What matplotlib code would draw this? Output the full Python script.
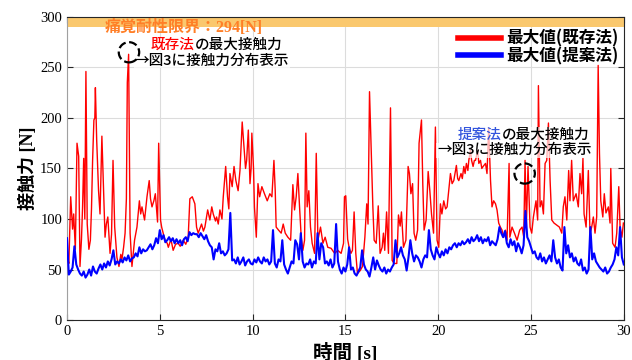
import numpy as np
import matplotlib
matplotlib.use("Agg")
import matplotlib.pyplot as plt
from matplotlib.patches import Ellipse

plt.rcParams['font.family'] = ['Liberation Serif', 'Noto Sans CJK JP']
JP = ['Noto Sans CJK JP', 'DejaVu Sans']
SERIF_JP = ['Liberation Serif', 'Noto Sans CJK JP']

# --- data ---
# existing method (red): time [s], max contact force [N]
red_t = [0.0, 0.05, 0.1, 0.2, 0.3, 0.36, 0.45, 0.54, 0.63, 0.7, 0.78, 0.84, 0.9, 0.96,
         1.02, 1.09, 1.18, 1.26, 1.32, 1.38, 1.45, 1.5, 1.53, 1.6, 1.7, 1.78, 1.88, 1.97,
         2.05, 2.12, 2.2, 2.32, 2.4, 2.48, 2.57, 2.69, 2.8, 2.9, 2.96, 3.05, 3.13, 3.2,
         3.25, 3.32, 3.4, 3.5, 3.58, 3.64, 3.77, 3.9, 3.97, 4.04, 4.18, 4.31, 4.43, 4.5,
         4.58, 4.68, 4.76, 4.88, 4.94, 5.04, 5.1, 5.2, 5.28, 5.4, 5.46, 5.6, 5.72, 5.85,
         5.99, 6.1, 6.26, 6.4, 6.53, 6.62, 6.75, 6.89, 6.98, 7.07, 7.15, 7.25, 7.35, 7.43,
         7.58, 7.7, 7.8, 7.88, 8.0, 8.06, 8.15, 8.24, 8.35, 8.42, 8.55, 8.65, 8.72, 8.78,
         8.9, 9.0, 9.1, 9.22, 9.32, 9.44, 9.55, 9.62, 9.68, 9.77, 9.86, 9.92, 9.96, 10.05,
         10.1, 10.2, 10.29, 10.38, 10.5, 10.64, 10.79, 10.93, 11.04, 11.15, 11.22, 11.27,
         11.4, 11.54, 11.65, 11.76, 11.9, 12.05, 12.17, 12.26, 12.35, 12.44, 12.53, 12.62,
         12.71, 12.8, 12.87, 12.94, 13.03, 13.12, 13.21, 13.34, 13.43, 13.52, 13.66, 13.79,
         13.91, 14.05, 14.23, 14.42, 14.59, 14.77, 14.9, 14.95, 15.02, 15.12, 15.2, 15.3,
         15.38, 15.47, 15.56, 15.65, 15.8, 15.92, 16.05, 16.15, 16.22, 16.3, 16.41, 16.48,
         16.55, 16.66, 16.77, 16.87, 16.98, 17.05, 17.12, 17.22, 17.32, 17.43, 17.52, 17.63,
         17.77, 17.86, 17.95, 18.02, 18.13, 18.26, 18.38, 18.45, 18.53, 18.62, 18.7, 18.79,
         18.89, 18.97, 19.1, 19.17, 19.24, 19.35, 19.46, 19.55, 19.64, 19.75, 19.85, 19.94,
         20.03, 20.12, 20.2, 20.3, 20.4, 20.48, 20.57, 20.66, 20.75, 20.84, 20.98, 21.05,
         21.11, 21.23, 21.3, 21.38, 21.45, 21.52, 21.6, 21.65, 21.74, 21.8, 21.88, 21.95,
         22.01, 22.13, 22.19, 22.28, 22.35, 22.42, 22.55, 22.63, 22.72, 22.82, 22.9, 22.99,
         23.09, 23.17, 23.26, 23.35, 23.44, 23.53, 23.62, 23.71, 23.82, 23.86, 23.98, 24.11,
         24.25, 24.39, 24.52, 24.61, 24.68, 24.75, 24.84, 24.95, 25.04, 25.13, 25.27, 25.36,
         25.4, 25.49, 25.58, 25.67, 25.76, 25.85, 25.94, 26.03, 26.12, 26.24, 26.39, 26.53,
         26.66, 26.74, 26.83, 26.93, 27.03, 27.1, 27.19, 27.28, 27.43, 27.55, 27.64, 27.73,
         27.8, 27.86, 27.97, 28.09, 28.18, 28.27, 28.36, 28.45, 28.54, 28.62, 28.69, 28.76,
         28.87, 28.95, 29.04, 29.17, 29.26, 29.3, 29.4, 29.53, 29.62, 29.73, 29.8, 29.9,
         29.98]
red_f = [75, 60, 56, 122, 90, 105, 70, 175, 162, 53, 80, 112, 160, 100,
         246, 95, 70, 79, 110, 158, 198, 200, 230, 178, 128, 105, 182, 128,
         82, 95, 102, 66, 85, 158, 92, 62, 53, 65, 60, 72, 86, 120,
         235, 263, 86, 53, 68, 79, 92, 118, 105, 112, 99, 122, 138, 120,
         112, 118, 125, 97, 175, 99, 92, 85, 79, 76, 72, 80, 69, 75,
         76, 73, 79, 75, 82, 120, 122, 115, 92, 86, 90, 95, 88, 92,
         109, 99, 112, 105, 98, 102, 95, 109, 100, 122, 152, 122, 110, 145,
         132, 152, 138, 128, 148, 196, 168, 150, 158, 188, 135, 150, 185, 150,
         112, 82, 135, 122, 132, 125, 118, 125, 122, 158, 128, 92,
         89, 86, 95, 86, 82, 79, 134, 109, 122, 145, 112, 82,
         69, 79, 185, 112, 128, 92, 76, 66, 165, 79, 92, 76,
         82, 72, 71, 66, 69, 66, 76, 122, 123, 80, 72, 66,
         69, 107, 66, 46, 49, 53, 82, 115, 95, 226, 155, 112,
         79, 76, 113, 66, 72, 86, 69, 107, 66, 210, 59, 56,
         56, 104, 93, 107, 72, 79, 152, 145, 125, 135, 86, 79,
         89, 175, 198, 135, 89, 99, 147, 128, 105, 86, 191, 79,
         72, 115, 105, 118, 110, 112, 128, 145, 135, 138, 153, 140,
         138, 145, 140, 152, 145, 155, 148, 158, 168, 158, 152, 158,
         158, 168, 155, 158, 150, 152, 155, 145, 190, 138, 112, 118,
         115, 109, 96, 92, 89, 82, 89, 79, 155, 82, 92, 86,
         79, 89, 92, 82, 158, 92, 152, 92, 86, 102, 118, 99,
         232, 112, 118, 105, 155, 158, 195, 138, 99, 96, 94, 92,
         86, 112, 122, 99, 148, 118, 158, 118, 125, 112, 145, 125,
         160, 105, 92, 148, 86, 92, 102, 86, 102, 252, 165, 118,
         102, 125, 106, 112, 96, 150, 76, 72, 86, 132, 92, 82,
         96]

# proposed method (blue): sampled every 0.1 s from 0 to 30 s
blue_t = [round(0.1 * i, 1) for i in range(301)]
blue_f = [81, 45, 48, 52, 73, 55, 50, 46, 44, 48,
          42, 45, 50, 44, 53, 48, 46, 51, 55, 50,
          56, 52, 58, 54, 60, 69, 55, 58, 56, 60,
          57, 62, 59, 64, 58, 61, 62, 66, 63, 72,
          66, 70, 68, 69, 72, 75, 70, 74, 81, 76,
          89, 80, 84, 77, 79, 82, 78, 81, 76, 80,
          76, 79, 74, 80, 82, 78, 87, 84, 86, 85,
          85, 82, 86, 83, 80, 84, 78, 74, 72, 60,
          70, 68, 76, 66, 68, 64, 66, 70, 106, 59,
          60, 56, 62, 55, 58, 62, 54, 58, 60, 56,
          55, 60, 57, 62, 58, 56, 62, 58, 60, 55,
          58, 89, 56, 52, 60, 58, 79, 55, 50, 46,
          52, 58, 56, 79, 75, 60, 86, 58, 52, 56,
          55, 60, 52, 58, 56, 86, 60, 76, 72, 56,
          58, 54, 60, 52, 56, 95, 58, 50, 46, 52,
          48, 55, 72, 50, 52, 46, 44, 48, 52, 69,
          55, 50, 48, 43, 52, 62, 50, 59, 54, 50,
          48, 52, 46, 50, 48, 52, 55, 79, 62, 66,
          72, 64, 60, 49, 62, 79, 66, 58, 64, 62,
          58, 52, 60, 64, 62, 89, 70, 64, 60, 72,
          66, 62, 68, 64, 70, 66, 72, 70, 74, 76,
          72, 76, 74, 78, 75, 77, 80, 76, 82, 78,
          80, 84, 78, 82, 76, 80, 78, 82, 74, 78,
          76, 74, 80, 92, 86, 82, 88, 76, 72, 80,
          74, 78, 68, 76, 72, 66, 74, 108, 82, 78,
          72, 66, 68, 62, 60, 66, 58, 62, 56, 60,
          64, 58, 79, 62, 56, 60, 52, 49, 92, 66,
          74, 62, 66, 58, 62, 56, 54, 60, 49, 52,
          46, 50, 92, 60, 66, 58, 55, 52, 50, 48,
          52, 46, 48, 52, 55, 60, 72, 64, 92, 62,
          55]

pain_limit = 294
labels = ['最大値(既存法)', '最大値(提案法)']

fig = plt.figure(figsize=(6.32, 3.6), dpi=100)
ax = fig.add_axes([0.106, 0.111, 0.881, 0.842])

ax.plot(red_t, red_f, color='red', lw=1.0, label=labels[0], zorder=3)
ax.plot(blue_t, blue_f, color='blue', lw=1.5, label=labels[1], zorder=4)

# pain tolerance band
ax.axhspan(290, 300, color='#fac86e', zorder=2, lw=0)
ax.text(6.3, 289, '痛覚耐性限界：%d[N]' % pain_limit, color='#ff7f27', fontsize=11.5,
        fontweight='bold', ha='center', va='center', family=SERIF_JP, zorder=6)

ax.set_xlim(0, 30)
ax.set_ylim(0, 300)
ax.set_xticks(range(0, 31, 5))
ax.set_yticks(range(0, 301, 50))
ax.grid(True, color='#dcdcdc', lw=0.8, zorder=0)
ax.set_axisbelow(True)
ax.tick_params(direction='in', top=True, right=True, labelsize=10.5, length=4,
               color='#262626')
for s in ['bottom', 'right', 'top']:
    ax.spines[s].set_color('#262626')
ax.spines['left'].set_color('#a0a0a0')

# x label sits partly below the figure edge, as in the original
ax.set_xlabel('時間 [s]', fontsize=14, fontweight='bold', labelpad=4)
ax.set_ylabel('接触力 [N]', fontsize=13, fontweight='bold', labelpad=2)

leg = ax.legend(loc='upper right', bbox_to_anchor=(1.005, 0.985), frameon=False,
                prop={'family': JP, 'size': 12, 'weight': 'bold'},
                handlelength=2.6, handletextpad=0.3, labelspacing=-0.04,
                borderaxespad=0.1)
for h in leg.get_lines():
    h.set_linewidth(4)
leg.set_zorder(7)

# annotations
box = dict(facecolor='white', alpha=0.7, edgecolor='none', pad=0.5)


def note(x_left, y1, x2, y2, word, color):
    t1 = ax.text(x_left, y1, word, color=color, fontsize=10.5, family=JP,
                 fontweight='medium', ha='left', va='center', bbox=box, zorder=8)
    ax.annotate('の最大接触力', xy=(1, 0.5), xycoords=t1, color='black', fontsize=10.5,
                family=JP, fontweight='medium', ha='left', va='center', bbox=box,
                zorder=8)
    ax.text(x2, y2, '→図3に接触力分布表示', color='black', fontsize=10.5, family=JP,
            fontweight='medium', ha='center', va='center', bbox=box, zorder=8)


note(4.5, 272, 7.8, 257, '既存法', 'red')
note(21.05, 183, 24.1, 168, '提案法', '#3355dd')

ax.add_patch(Ellipse((3.34, 265), 1.1, 20, fill=False, ls='--', lw=1.6,
                     color='black', zorder=9))
ax.add_patch(Ellipse((24.66, 145), 1.1, 20, fill=False, ls='--', lw=1.6,
                     color='black', zorder=9))

fig.savefig('out.png', dpi=100)
